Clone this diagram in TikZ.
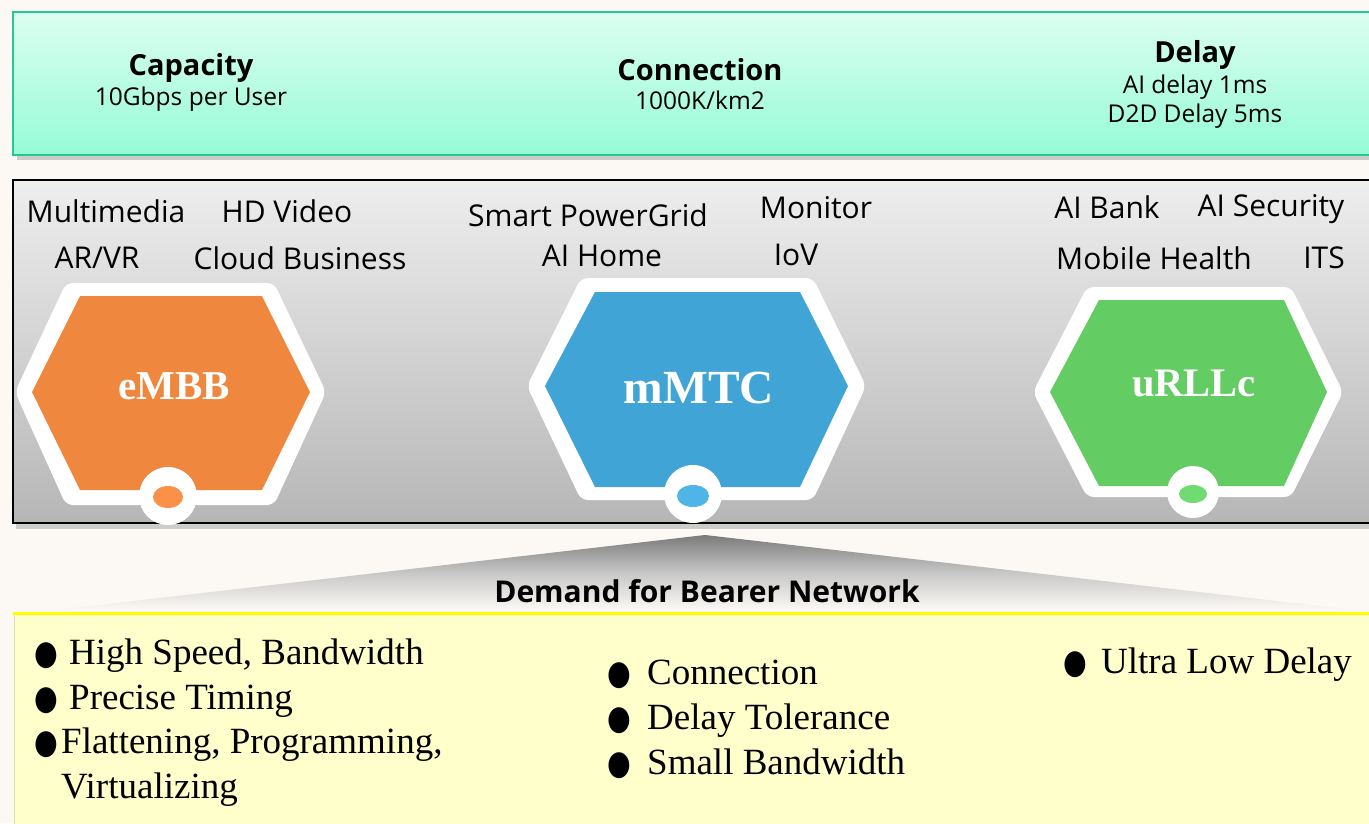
\documentclass[tikz,border=0pt]{standalone}
\usepackage{fontspec}
\setmainfont{Liberation Serif}
\newfontfamily\uisans{Open Sans}
\newfontfamily\symfont{DejaVu Sans}
\usetikzlibrary{shapes.geometric}
\definecolor{bgc}{HTML}{FCF9F5}
\definecolor{topA}{HTML}{DCFDF0}
\definecolor{topB}{HTML}{96FCD8}
\definecolor{topBorder}{HTML}{22C995}
\definecolor{grayA}{HTML}{EEEEEE}
\definecolor{grayB}{HTML}{B6B6B6}
\definecolor{orangeH}{HTML}{EF883E}
\definecolor{orangeD}{HTML}{FB9148}
\definecolor{blueH}{HTML}{41A4D6}
\definecolor{blueD}{HTML}{4FB4E6}
\definecolor{greenH}{HTML}{63CC63}
\definecolor{greenD}{HTML}{70DB70}
\definecolor{yellowBox}{HTML}{FFFFCC}
\definecolor{yellowLine}{HTML}{FFFF00}
\newcommand{\bigdot}{\scalebox{0.8}[1.0]{●}}
\begin{document}
\begin{tikzpicture}[x=1pt,y=-1pt,
  boldlbl/.style={font=\uisans\bfseries\fontsize{29}{32}\selectfont, inner sep=0pt},
  sublbl/.style={font=\uisans\fontsize{24.5}{28}\selectfont, inner sep=0pt},
  applbl/.style={font=\uisans\fontsize{30}{34}\selectfont, inner sep=0pt},
  hexlbl/.style={font=\bfseries\fontsize{41}{44}\selectfont, text=white, inner sep=0pt},
  bul/.style={font=\fontsize{37}{42}\selectfont, inner sep=0pt, anchor=base west},
  dot/.style={font=\symfont\fontsize{34}{38}\selectfont, inner sep=0pt, anchor=base west},
  outerhex/.style={fill=white, rounded corners=7pt},
  ring/.style={fill=white}
]
\useasboundingbox (0,0) rectangle (1369,823);
\fill[bgc] (0,0) rectangle (1369,823);

% ---------- top box ----------
\fill[black, opacity=0.18] (17,17) rectangle (1373,160);
\shade[top color=topA, bottom color=topB, draw=topBorder, line width=2.2pt]
  (13,12) rectangle (1372,155);
\node[boldlbl] (cap) at (191,68) {Capacity};
\node[sublbl] (capv) at (191,99) {10Gbps per User};
\node[boldlbl] (con) at (700,70) {Connection};
\node[sublbl] (conv) at (700,100) {1000K/km2};
\node[boldlbl] (del) at (1195,55) {Delay};
\node[sublbl] (delv1) at (1195,87) {AI delay 1ms};
\node[sublbl] (delv2) at (1195,116) {D2D Delay 5ms};

% ---------- gray box ----------
\fill[black, opacity=0.18] (16,184) rectangle (1373,529);
\shade[top color=grayA, bottom color=grayB, draw=black, line width=2pt]
  (13,180) rectangle (1372,523);

\node[applbl] (mm) at (106,211) {Multimedia};
\node[applbl] (hd) at (287,211) {HD Video};
\node[applbl] (ar) at (97,258) {AR/VR};
\node[applbl] (cb) at (300,258) {Cloud Business};
\node[applbl] (sp) at (588,215) {Smart PowerGrid};
\node[applbl] (mo) at (816,208) {Monitor};
\node[applbl] (ah) at (602,256) {AI Home};
\node[applbl] (io) at (796,255) {IoV};
\node[applbl] (ab) at (1107,207) {AI Bank};
\node[applbl] (as) at (1271,209) {AI Security};
\node[applbl] (mh) at (1154,258) {Mobile Health};
\node[applbl] (its) at (1324,258) {ITS};

% eMBB hexagon
\fill[outerhex] (15,392) -- (66,283) -- (274,283) -- (326,392) -- (274,505) -- (66,505) -- cycle;
\fill[orangeH] (32,392) -- (80,296) -- (262,296) -- (310,392) -- (262,490) -- (80,490) -- cycle;
\node[hexlbl] (embb) at (174,386) {eMBB};
\fill[ring] (168,496) circle (29);
\fill[orangeD] (168,497) ellipse (15 and 11);

% mMTC hexagon
\fill[outerhex] (527,386) -- (581,278) -- (813,278) -- (866,386) -- (813,500) -- (581,500) -- cycle;
\fill[blueH] (545,386) -- (595,292) -- (800,292) -- (848,386) -- (800,487) -- (595,487) -- cycle;
\node[hexlbl, font=\bfseries\fontsize{47.5}{50}\selectfont] (mmtc) at (699,388) {mMTC};
\fill[ring] (693,494) circle (29);
\fill[blueD] (693,496) ellipse (16 and 11);

% uRLLc hexagon
\fill[outerhex] (1033,392) -- (1087,287) -- (1291,287) -- (1343,392) -- (1291,497) -- (1087,497) -- cycle;
\fill[greenH] (1050,392) -- (1099,300) -- (1284,300) -- (1327,392) -- (1284,486) -- (1099,486) -- cycle;
\node[hexlbl, font=\bfseries\fontsize{40.5}{44}\selectfont] (urllc) at (1194,383) {uRLLc};
\fill[ring] (1193,492) circle (26);
\fill[greenD] (1193,494) ellipse (14 and 9);

% ---------- demand triangle ----------
\shade[top color=black!52, bottom color=bgc, middle color=black!22]
  (705,535) -- (1355,610) -- (55,610) -- cycle;
\node[boldlbl, font=\uisans\bfseries\fontsize{30}{33}\selectfont] (dem) at (707,591) {Demand for Bearer Network};

% ---------- yellow box ----------
\fill[yellowBox] (13,613) rectangle (1372,830);
\draw[black!15, line width=1pt] (14,613) -- (14,830);
\draw[yellowLine, line width=3pt] (13,613) -- (1372,613);

\node[dot] (b1) at (34,664) {\bigdot};
\node[bul] (t1) at (69,664) {High Speed, Bandwidth};
\node[dot] (b2) at (34,709) {\bigdot};
\node[bul] (t2) at (69,709) {Precise Timing};
\node[dot] (b3) at (34,753) {\bigdot};
\node[bul] (t3) at (61,753) {Flattening, Programming,};
\node[bul] (t4) at (61,798) {Virtualizing};

\node[dot] (b5) at (607,684) {\bigdot};
\node[bul] (t5) at (647,684) {Connection};
\node[dot] (b6) at (607,729) {\bigdot};
\node[bul] (t6) at (647,729) {Delay Tolerance};
\node[dot] (b7) at (607,774) {\bigdot};
\node[bul] (t7) at (647,774) {Small Bandwidth};

\node[dot] (b8) at (1063,673) {\bigdot};
\node[bul] (t8) at (1101,673) {Ultra Low Delay};
\end{tikzpicture}
\end{document}
